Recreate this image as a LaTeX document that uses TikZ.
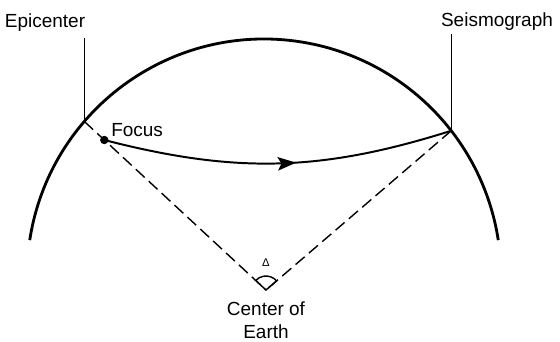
\documentclass[tikz,border=0pt]{standalone}
\usepackage{fontspec}
\setmainfont{Liberation Sans}
\usetikzlibrary{arrows.meta,decorations.markings,calc}

\begin{document}
\begin{tikzpicture}[
    x=0.025cm, y=0.025cm,
    every node/.style={font=\fontsize{13.5}{17}\selectfont, inner sep=0pt},
    crust/.style={line width=2pt},
    leader/.style={line width=0.6pt},
    radius line/.style={dash pattern=on 8.5pt off 4pt, line width=1pt},
    ray/.style={
        line width=1.4pt, postaction={decorate},
        decoration={markings, mark=at position 0.55 with {\arrow{Stealth[length=13pt,width=9.5pt,inset=2.5pt]}}}
    }
]
\useasboundingbox (0,0) rectangle (560,342);

% earth surface
\coordinate (O) at (264,66);
\draw[crust] ($(O)+(171.3:237)$) arc[start angle=171.3, end angle=8.7, radius=237];

\coordinate (epi) at ($(O)+(139.3:237)$);
\coordinate (seis) at ($(O)+(37.8:237)$);
\coordinate (core) at (266,52);
\coordinate (focus) at ($(epi)!0.11!(core)$);
\coordinate (epitop) at ($(epi |- 0,304)$);
\coordinate (seistop) at ($(seis |- 0,308)$);

% labels
\node (epilabel) at (45,319) {Epicenter};
\node (seislabel) at (497,320) {Seismograph};
\node[anchor=west] (focuslabel) at (111,212) {Focus};
\node[anchor=north, align=center] (corelabel) at (266,41) {Center of\\Earth};
\node (delta) at (266,79) {\fontsize{8}{8}\selectfont Δ};

\draw[leader] (epi) -- (epitop);
\draw[leader] (seis) -- (seistop);

% radii to the center
\draw[radius line] (epi) -- (core);
\draw[radius line] (seis) -- (core);
\draw[line width=1pt] (core) -- ++(40.7:14) arc[start angle=40.7, end angle=137.2, radius=14] -- cycle;

% ray path
\draw[ray] (focus) to[bend right=16] (seis);
\fill (focus) circle[radius=3pt];

\end{tikzpicture}
\end{document}
